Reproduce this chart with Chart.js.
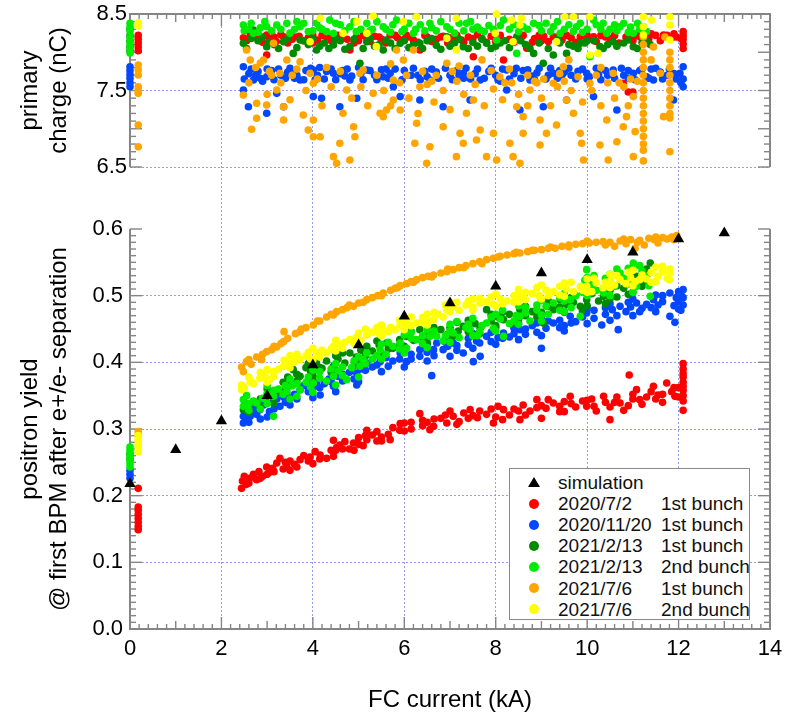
<!DOCTYPE html>
<html>
<head>
<meta charset="utf-8">
<script src="https://cdn.jsdelivr.net/npm/chart.js@4/dist/chart.umd.min.js"></script>
<style>
  html, body { margin: 0; padding: 0; background: #fff; }
  #wrap { position: relative; width: 788px; height: 715px; }
  #legend { position: absolute; left: 509px; top: 468px; width: 241px; height: 152px; box-sizing: border-box;
    border: 1px solid #8a8a8a; background: #fff; font-family: 'Liberation Sans', Arial, sans-serif; font-size: 19px; color: #111; }
  .row { position: absolute; left: 0; height: 21px; line-height: 21px; width: 100%; white-space: nowrap; }
  .dot { position: absolute; left: 19px; top: 5.5px; width: 10px; height: 10px; border-radius: 50%; }
  .tri { position: absolute; left: 18px; top: 5px; width: 0; height: 0; border-left: 6px solid transparent; border-right: 6px solid transparent; border-bottom: 10px solid #000; }
  .c1 { position: absolute; left: 48px; }
  .c2 { position: absolute; left: 151px; }
</style>
</head>
<body>
<div id="wrap">
  <canvas id="c" width="788" height="715"></canvas>
  <div id="legend"></div>
</div>
<script>
// ---------------- DATA ----------------
const X_TITLE = 'FC current (kA)';
const Y_LOW_TITLE = ['positron yield', '@ first BPM after e+/e- separation'];
const Y_UP_TITLE = ['primary', 'charge (nC)'];
const SIM_LABEL = 'simulation';
const SERIES_LABELS = ['2020/7/2', '2020/11/20', '2021/2/13', '2021/2/13', '2021/7/6', '2021/7/6'];
const BUNCH_LABELS = ['1st bunch', '1st bunch', '1st bunch', '2nd bunch', '1st bunch', '2nd bunch'];
const SERIES_COLORS = ['#ff0000', '#0047ff', '#008a00', '#00ec00', '#ffa500', '#ffff00'];

const simYield = [[0,0.218],[1,0.269],[2,0.312],[3,0.35],[4,0.396],[5,0.426],[6,0.469],[7,0.489],[8,0.514],[9,0.534],[10,0.554],[11,0.565],[12,0.585],[13,0.594]];

const redYield = [[0.18,0.211],[0.18,0.183],[0.18,0.178],[0.18,0.172],[0.18,0.166],[0.18,0.16],[0.18,0.154],[0.18,0.149],
[2.44,0.211],[2.46,0.222],[2.5,0.229],[2.55,0.217],[2.62,0.226],[2.7,0.232],[2.77,0.224],[2.82,0.236],[2.9,0.229],[2.99,0.243],[3.05,0.235],[3.12,0.241],[3.21,0.249],[3.28,0.256],[3.35,0.24],[3.43,0.244],[3.5,0.252],[3.6,0.247],[3.72,0.254],[3.8,0.26],[3.94,0.258],[4.05,0.266],[4.16,0.261],[4.3,0.256],[4.45,0.259],[4.45,0.283],[4.52,0.272],[4.59,0.276],[4.7,0.281],[4.8,0.27],[4.89,0.279],[5.0,0.287],[5.1,0.275],[5.18,0.298],[5.18,0.284],[5.3,0.291],[5.4,0.296],[5.5,0.288],[5.69,0.284],[5.75,0.302],[5.91,0.308],[6.0,0.297],[6.15,0.31],[6.34,0.323],[6.4,0.313],[6.56,0.299],[6.64,0.304],[6.8,0.316],[6.93,0.309],[7.07,0.319],[7.2,0.311],[7.3,0.324],[7.44,0.329],[7.6,0.317],[7.8,0.322],[7.95,0.309],[8.05,0.334],[8.17,0.329],[8.3,0.321],[8.53,0.314],[8.6,0.336],[8.75,0.327],[8.9,0.344],[9.0,0.316],[9.1,0.331],[9.26,0.339],[9.4,0.326],[9.5,0.341],[9.63,0.349],[9.75,0.333],[9.99,0.334],[10.1,0.345],[10.2,0.327],[10.36,0.349],[10.5,0.314],[10.6,0.34],[10.72,0.339],[10.8,0.328],[10.92,0.381],[11.0,0.345],[11.08,0.359],[11.2,0.337],[11.3,0.348],[11.45,0.364],[11.55,0.351],[11.65,0.34],[11.74,0.369],[11.85,0.356],[11.92,0.349],[12.0,0.362],
[12.1,0.398],[12.1,0.39],[12.1,0.383],[12.1,0.378],[12.1,0.37],[12.1,0.364],[12.1,0.358],[12.1,0.35],[12.1,0.342],[12.1,0.328],
[3.0,0.232],[3.5,0.238],[4.0,0.248],[4.5,0.268],[5.0,0.277],[5.5,0.282],[6.0,0.309],[6.5,0.31],[7.0,0.327],[7.5,0.32],[8.0,0.318],[8.5,0.327],[9.0,0.335],[9.5,0.326],[10.0,0.343],[10.5,0.333],[11.0,0.352],[11.5,0.345],[12.0,0.348],
[2.6,0.219],[2.85,0.226],[3.15,0.236],[3.4,0.25],[3.65,0.243],[3.9,0.252],[4.15,0.255],[4.4,0.268],[4.65,0.27],[4.9,0.268],[5.15,0.29],[5.4,0.282],[5.65,0.292],[5.9,0.298],[6.15,0.3],[6.4,0.305],[6.65,0.315],[6.9,0.321],[7.15,0.307],[7.4,0.316],[7.65,0.327],[7.9,0.33],[8.15,0.314],[8.4,0.33],[8.65,0.321],[8.9,0.332],[9.15,0.344],[9.4,0.334],[9.65,0.338],[9.9,0.342],[10.15,0.334],[10.4,0.34],[10.65,0.348],[10.9,0.335],[11.15,0.344],[11.4,0.356],[11.65,0.352],[11.9,0.362]];

const blueYield = [[0,0.238],[0,0.232],[0,0.226],
[2.48,0.309],[2.48,0.319],[2.5,0.327],[2.55,0.314],[2.63,0.319],[2.7,0.33],[2.77,0.322],[2.84,0.329],[2.92,0.336],[2.99,0.339],[3.05,0.326],[3.14,0.341],[3.21,0.345],[3.28,0.334],[3.36,0.348],[3.43,0.354],[3.5,0.346],[3.6,0.352],[3.72,0.359],[3.8,0.365],[3.9,0.356],[4.01,0.363],[4.08,0.37],[4.16,0.351],[4.25,0.368],[4.35,0.375],[4.45,0.364],[4.55,0.379],[4.65,0.372],[4.8,0.385],[4.96,0.366],[4.96,0.384],[5.05,0.39],[5.18,0.399],[5.3,0.393],[5.47,0.401],[5.6,0.407],[5.75,0.402],[5.91,0.414],[6.05,0.401],[6.15,0.412],[6.34,0.419],[6.34,0.409],[6.5,0.415],[6.6,0.38],[6.64,0.419],[6.71,0.429],[6.85,0.419],[6.95,0.424],[7.07,0.429],[7.15,0.418],[7.29,0.414],[7.4,0.427],[7.51,0.401],[7.58,0.432],[7.66,0.409],[7.8,0.439],[7.9,0.431],[8.05,0.437],[8.17,0.444],[8.3,0.438],[8.4,0.451],[8.53,0.449],[8.65,0.442],[8.8,0.455],[8.9,0.459],[9.0,0.421],[9.1,0.451],[9.26,0.459],[9.4,0.463],[9.5,0.455],[9.63,0.469],[9.75,0.461],[9.9,0.468],[9.99,0.474],[10.15,0.466],[10.32,0.456],[10.4,0.472],[10.55,0.479],[10.68,0.449],[10.72,0.484],[10.85,0.476],[10.95,0.483],[11.08,0.489],[11.2,0.481],[11.3,0.487],[11.45,0.494],[11.55,0.486],[11.65,0.491],[11.81,0.504],[11.81,0.469],[11.92,0.46],[11.95,0.497],[12.0,0.491],[12.05,0.502],[12.1,0.509],[12.1,0.497],[12.1,0.486],
[3.0,0.318],[3.5,0.336],[4.0,0.347],[4.5,0.356],[5.0,0.371],[5.5,0.386],[6.0,0.393],[6.5,0.402],[7.0,0.409],[7.5,0.421],[8.0,0.427],[8.5,0.434],[9.0,0.44],[9.5,0.447],[10.0,0.458],[10.5,0.463],[11.0,0.47],[11.5,0.476],[12.0,0.48],
[3.0,0.35],[3.5,0.365],[4.0,0.378],[4.5,0.388],[5.0,0.4],[5.5,0.413],[6.0,0.421],[6.5,0.427],[7.0,0.436],[7.5,0.443],[8.0,0.452],[8.5,0.459],[9.0,0.466],[9.5,0.476],[10.0,0.482],[10.5,0.488],[11.0,0.495],[11.5,0.501],[12.0,0.506],
[2.6,0.31],[2.85,0.315],[3.15,0.33],[3.4,0.34],[3.65,0.345],[3.9,0.37],[4.15,0.362],[4.4,0.371],[4.65,0.382],[4.9,0.375],[5.15,0.388],[5.4,0.396],[5.65,0.394],[5.9,0.405],[6.15,0.405],[6.4,0.422],[6.65,0.41],[6.9,0.43],[7.15,0.425],[7.4,0.436],[7.65,0.429],[7.9,0.445],[8.15,0.436],[8.4,0.443],[8.65,0.45],[8.9,0.445],[9.15,0.462],[9.4,0.452],[9.65,0.459],[9.9,0.476],[10.15,0.478],[10.4,0.482],[10.65,0.47],[10.9,0.49],[11.15,0.476],[11.4,0.482],[11.65,0.5],[11.9,0.485],[12.05,0.478]];

const dkGreenYield = [[0,0.255],[0,0.262],
[2.48,0.329],[2.52,0.338],[2.6,0.332],[2.7,0.341],[2.84,0.334],[2.95,0.345],[3.05,0.35],[3.14,0.339],[3.25,0.355],[3.35,0.37],[3.45,0.378],[3.57,0.389],[3.65,0.382],[3.72,0.379],[3.85,0.392],[3.95,0.387],[4.08,0.399],[4.2,0.391],[4.3,0.402],[4.45,0.394],[4.55,0.405],[4.7,0.399],[4.81,0.414],[4.95,0.408],[5.05,0.418],[5.18,0.424],[5.3,0.417],[5.45,0.426],[5.61,0.429],[5.75,0.421],[5.9,0.434],[6.05,0.439],[6.2,0.433],[6.34,0.449],[6.5,0.441],[6.64,0.444],[6.8,0.449],[6.95,0.442],[7.07,0.439],[7.18,0.447],[7.29,0.454],[7.4,0.446],[7.55,0.458],[7.66,0.451],[7.8,0.479],[7.9,0.462],[8.05,0.468],[8.17,0.464],[8.3,0.472],[8.53,0.479],[8.65,0.47],[8.8,0.476],[9.04,0.459],[9.15,0.484],[9.26,0.479],[9.41,0.494],[9.55,0.487],[9.7,0.49],[9.85,0.484],[9.99,0.494],[10.1,0.503],[10.25,0.492],[10.36,0.499],[10.5,0.508],[10.65,0.498],[10.8,0.511],[10.95,0.517],[11.08,0.529],[11.2,0.514],[11.3,0.522],[11.38,0.549],
[3.0,0.36],[3.5,0.366],[4.0,0.38],[4.5,0.41],[5.0,0.4],[5.5,0.412],[6.0,0.424],[6.5,0.43],[7.0,0.452],[7.5,0.44],[8.0,0.455],[8.5,0.465],[9.0,0.475],[9.5,0.475],[10.0,0.485],[10.5,0.495],[11.0,0.505],
[2.6,0.325],[2.85,0.345],[3.15,0.356],[3.4,0.36],[3.65,0.372],[3.9,0.398],[4.15,0.392],[4.4,0.385],[4.65,0.414],[4.9,0.395],[5.15,0.41],[5.4,0.432],[5.65,0.42],[5.9,0.426],[6.15,0.446],[6.4,0.435],[6.65,0.452],[6.9,0.437],[7.15,0.46],[7.4,0.463],[7.65,0.443],[7.9,0.472],[8.15,0.475],[8.4,0.459],[8.65,0.484],[8.9,0.468],[9.15,0.492],[9.4,0.483],[9.65,0.497],[9.9,0.478],[10.15,0.51],[10.4,0.488],[10.65,0.515],[10.9,0.502],[11.15,0.52],[11.3,0.54]];

const ltGreenYield = [[0,0.273],[0,0.268],[0,0.263],[0,0.258],[0,0.253],[0,0.248],[0,0.243],
[2.48,0.334],[2.48,0.344],[2.55,0.35],[2.6,0.328],[2.7,0.342],[2.77,0.339],[2.9,0.346],[3.0,0.353],[3.14,0.349],[3.14,0.319],[3.25,0.36],[3.35,0.352],[3.43,0.356],[3.55,0.365],[3.65,0.349],[3.72,0.359],[3.85,0.37],[3.95,0.363],[4.01,0.369],[4.15,0.376],[4.3,0.372],[4.45,0.379],[4.55,0.387],[4.65,0.38],[4.74,0.374],[4.85,0.392],[5.03,0.394],[5.1,0.404],[5.18,0.414],[5.3,0.405],[5.47,0.419],[5.6,0.412],[5.75,0.424],[5.91,0.429],[6.05,0.421],[6.15,0.436],[6.27,0.434],[6.4,0.428],[6.56,0.439],[6.71,0.439],[6.85,0.432],[7.0,0.447],[7.07,0.444],[7.2,0.437],[7.35,0.452],[7.44,0.449],[7.6,0.44],[7.7,0.455],[7.8,0.459],[7.95,0.451],[8.1,0.465],[8.17,0.439],[8.3,0.458],[8.45,0.47],[8.53,0.469],[8.65,0.474],[8.75,0.462],[8.9,0.479],[9.0,0.471],[9.1,0.484],[9.26,0.489],[9.4,0.478],[9.5,0.492],[9.63,0.494],[9.75,0.5],[9.85,0.469],[9.95,0.523],[9.99,0.539],[10.1,0.517],[10.2,0.508],[10.36,0.504],[10.5,0.522],[10.6,0.514],[10.72,0.534],[10.8,0.526],[10.9,0.541],[11.01,0.549],[11.08,0.514],[11.2,0.537],[11.3,0.529],[11.38,0.499],
[3.0,0.365],[3.5,0.375],[4.0,0.388],[4.5,0.398],[5.0,0.408],[5.5,0.427],[6.0,0.441],[6.5,0.449],[7.0,0.457],[7.5,0.466],[8.0,0.472],[8.5,0.485],[9.0,0.493],[9.5,0.503],[10.0,0.527],[10.5,0.532],[11.0,0.54],
[3.0,0.338],[3.5,0.345],[4.0,0.355],[4.5,0.366],[5.0,0.378],[5.5,0.405],[6.0,0.414],[6.5,0.422],[7.0,0.43],[7.5,0.44],[8.0,0.447],[8.5,0.457],[9.0,0.462],[9.5,0.476],[10.0,0.5],[10.5,0.5],[11.0,0.505],
[2.6,0.338],[2.85,0.33],[3.15,0.358],[3.4,0.365],[3.65,0.368],[3.9,0.378],[4.15,0.386],[4.4,0.39],[4.65,0.393],[4.9,0.402],[5.15,0.398],[5.4,0.41],[5.65,0.43],[5.9,0.42],[6.15,0.445],[6.4,0.44],[6.65,0.447],[6.9,0.44],[7.15,0.461],[7.4,0.457],[7.65,0.446],[7.9,0.468],[8.15,0.478],[8.4,0.462],[8.65,0.482],[8.9,0.486],[9.15,0.472],[9.4,0.497],[9.65,0.482],[9.9,0.505],[10.15,0.53],[10.4,0.526],[10.65,0.54],[10.9,0.52],[11.15,0.545],[11.35,0.515]];

const orangeYield = [[0.18,0.296],[0.18,0.29],
[2.44,0.393],[2.48,0.386],[2.55,0.401],[2.65,0.397],[2.77,0.408],[2.88,0.404],[2.99,0.416],[3.1,0.419],[3.21,0.423],[3.3,0.428],[3.36,0.431],[3.37,0.446],[3.62,0.443],[3.72,0.446],[3.85,0.452],[4.01,0.456],[4.15,0.462],[4.3,0.468],[4.4,0.472],[4.52,0.476],[4.65,0.479],[4.75,0.482],[4.89,0.484],[5.0,0.489],[5.18,0.494],[5.3,0.497],[5.42,0.5],[5.54,0.504],[5.7,0.508],[5.8,0.511],[5.91,0.515],[6.05,0.518],[6.15,0.521],[6.27,0.524],[6.4,0.527],[6.52,0.529],[6.64,0.531],[6.8,0.534],[6.93,0.536],[7.07,0.539],[7.2,0.542],[7.35,0.545],[7.5,0.548],[7.65,0.551],[7.8,0.554],[7.95,0.556],[8.1,0.559],[8.25,0.561],[8.4,0.563],[8.53,0.564],[8.7,0.566],[8.85,0.568],[9.0,0.569],[9.15,0.571],[9.3,0.571],[9.45,0.574],[9.6,0.576],[9.75,0.577],[9.9,0.578],[10.05,0.579],[10.2,0.58],[10.35,0.581],[10.5,0.58],[10.6,0.574],[10.72,0.582],[10.85,0.578],[10.95,0.584],[11.05,0.571],[11.15,0.583],[11.25,0.576],[11.35,0.586],[11.47,0.584],[11.55,0.579],[11.65,0.587],[11.75,0.585],[11.85,0.588],[11.96,0.59],
[2.6,0.404],[2.9,0.412],[3.15,0.424],[3.45,0.436],[3.75,0.45],[4.1,0.462],[4.45,0.471],[4.8,0.486],[5.1,0.49],[5.5,0.5],[5.85,0.512],[6.2,0.52],[6.6,0.528],[6.95,0.54],[7.3,0.542],[7.7,0.548],[8.05,0.558],[8.45,0.565],[8.8,0.568],[9.2,0.573],[9.6,0.573],[10.0,0.582],[10.4,0.576],[10.8,0.585],[11.1,0.58],[11.5,0.588],[11.9,0.584]];

const yellowYield = [[0.18,0.29],[0.18,0.284],[0.18,0.278],[0.18,0.272],[0.18,0.266],
[2.44,0.359],[2.44,0.366],[2.5,0.362],[2.63,0.371],[2.7,0.368],[2.84,0.376],[2.95,0.38],[3.05,0.374],[3.14,0.386],[3.25,0.39],[3.36,0.394],[3.37,0.403],[3.5,0.398],[3.6,0.401],[3.72,0.404],[3.85,0.409],[3.95,0.405],[4.08,0.414],[4.2,0.418],[4.3,0.414],[4.45,0.424],[4.55,0.428],[4.7,0.43],[4.81,0.434],[4.95,0.437],[5.05,0.433],[5.18,0.441],[5.3,0.445],[5.45,0.443],[5.54,0.449],[5.7,0.452],[5.8,0.449],[5.91,0.456],[6.05,0.458],[6.15,0.455],[6.27,0.459],[6.4,0.467],[6.5,0.462],[6.64,0.464],[6.75,0.472],[6.85,0.468],[6.93,0.479],[7.07,0.484],[7.2,0.478],[7.35,0.486],[7.5,0.482],[7.65,0.489],[7.8,0.491],[7.95,0.487],[8.1,0.495],[8.25,0.492],[8.4,0.5],[8.53,0.499],[8.65,0.494],[8.8,0.503],[8.95,0.5],[9.1,0.508],[9.26,0.506],[9.4,0.501],[9.55,0.51],[9.7,0.506],[9.85,0.514],[9.99,0.514],[10.1,0.506],[10.2,0.519],[10.35,0.512],[10.5,0.522],[10.6,0.516],[10.72,0.524],[10.85,0.518],[10.95,0.527],[11.05,0.521],[11.2,0.531],[11.3,0.525],[11.4,0.535],[11.55,0.529],[11.65,0.536],[11.75,0.526],[11.81,0.534],[11.81,0.54],
[3.0,0.389],[3.5,0.41],[4.0,0.421],[4.5,0.433],[5.0,0.444],[5.5,0.456],[6.0,0.466],[6.5,0.472],[7.0,0.49],[7.5,0.495],[8.0,0.502],[8.5,0.509],[9.0,0.516],[9.5,0.519],[10.0,0.525],[10.5,0.532],[11.0,0.538],[11.5,0.543],
[3.0,0.37],[3.5,0.392],[4.0,0.404],[4.5,0.417],[5.0,0.428],[5.5,0.44],[6.0,0.449],[6.5,0.456],[7.0,0.476],[7.5,0.478],[8.0,0.484],[8.5,0.491],[9.0,0.495],[9.5,0.499],[10.0,0.505],[10.5,0.512],[11.0,0.515],[11.5,0.521],
[2.6,0.378],[2.85,0.385],[3.15,0.379],[3.4,0.4],[3.65,0.412],[3.9,0.415],[4.15,0.408],[4.4,0.42],[4.65,0.421],[4.9,0.428],[5.15,0.45],[5.4,0.452],[5.65,0.446],[5.9,0.463],[6.15,0.468],[6.4,0.46],[6.65,0.475],[6.9,0.486],[7.15,0.49],[7.4,0.492],[7.65,0.496],[7.9,0.498],[8.15,0.488],[8.4,0.49],[8.65,0.505],[8.9,0.512],[9.15,0.5],[9.4,0.514],[9.65,0.52],[9.9,0.508],[10.15,0.526],[10.4,0.52],[10.65,0.53],[10.9,0.535],[11.15,0.524],[11.4,0.52],[11.65,0.544],[11.8,0.524]];

const redCharge = [[0.18,8.22],[0.18,8.17],[0.18,8.12],[0.18,8.07],[0.18,8.02],
[2.48,8.19],[2.63,8.225],[2.8,8.18],[2.99,8.225],[2.99,7.964],[3.15,8.2],[3.36,8.203],[3.55,8.17],[3.7,8.21],[3.9,8.19],[4.1,8.16],[4.3,8.2],[4.45,8.225],[4.6,8.18],[4.81,8.03],[4.95,8.2],[5.18,8.182],[5.35,8.21],[5.5,8.17],[5.69,8.225],[5.85,8.19],[6.05,8.22],[6.2,8.16],[6.34,8.03],[6.5,8.2],[6.7,8.17],[6.85,8.21],[7.07,8.203],[7.25,8.16],[7.4,8.2],[7.51,7.942],[7.7,8.18],[7.9,8.21],[8.17,7.898],[8.3,8.17],[8.5,8.2],[8.68,8.052],[8.85,8.18],[9.05,8.21],[9.26,8.203],[9.45,8.16],[9.65,8.19],[9.85,8.203],[10.0,8.17],[10.14,8.203],[10.3,8.22],[10.5,8.18],[10.79,7.594],[10.9,7.48],[11.0,7.48],[11.0,8.19],[11.16,8.203],[11.35,8.18],[11.5,8.22],[11.67,8.225],[11.85,8.19],
[12.1,8.27],[12.1,8.22],[12.1,8.17],[12.1,8.11],[12.1,8.05],
[3.2,8.14],[4.0,8.22],[5.0,8.15],[6.0,8.17],[7.0,8.14],[8.0,8.2],[9.0,8.15],[10.0,8.22],[11.0,8.15],[11.95,8.2],
[2.55,8.15],[2.7,8.2],[2.9,8.13],[3.05,8.18],[3.3,8.23],[3.45,8.12],[3.6,8.2],[3.8,8.15],[4.0,8.12],[4.2,8.22],[4.4,8.15],[4.55,8.22],[4.75,8.17],[4.9,8.12],[5.1,8.22],[5.25,8.14],[5.45,8.2],[5.6,8.12],[5.8,8.22],[5.95,8.15],[6.1,8.2],[6.3,8.13],[6.45,8.22],[6.6,8.14],[6.8,8.2],[6.95,8.12],[7.15,8.22],[7.3,8.13],[7.5,8.18],[7.6,8.23],[7.8,8.13],[8.0,8.14],[8.1,8.22],[8.4,8.13],[8.6,8.22],[8.8,8.13],[8.95,8.22],[9.15,8.14],[9.35,8.2],[9.55,8.22],[9.75,8.13],[9.95,8.22],[10.2,8.14],[10.4,8.2],[10.6,8.22],[10.7,8.12],[10.85,8.2],[11.1,8.22],[11.25,8.13],[11.4,8.24],[11.6,8.15],[11.75,8.22],[11.9,8.24],[12.05,8.18]];

const blueCharge = [[0,7.81],[0,7.76],[0,7.71],[0,7.66],[0,7.6],[0,7.55],
[2.48,7.811],[2.48,7.507],[2.59,7.288],[2.6,7.72],[2.7,7.637],[2.8,7.75],[2.99,7.68],[2.99,7.202],[3.1,7.76],[3.21,7.463],[3.3,7.7],[3.36,7.288],[3.45,7.74],[3.57,7.725],[3.72,7.637],[3.85,7.76],[4.01,7.42],[4.01,7.768],[4.1,7.7],[4.19,7.398],[4.3,7.75],[4.45,7.725],[4.59,7.288],[4.65,7.76],[4.81,7.637],[4.96,7.398],[5.05,7.72],[5.18,7.768],[5.35,7.7],[5.54,7.68],[5.69,7.725],[5.76,7.55],[5.91,7.42],[6.0,7.76],[6.15,7.7],[6.34,7.376],[6.45,7.75],[6.56,7.637],[6.7,7.74],[6.85,7.288],[7.0,7.7],[7.15,7.76],[7.29,7.725],[7.44,7.376],[7.55,7.72],[7.66,7.637],[7.85,7.75],[8.0,7.7],[8.24,7.768],[8.24,7.507],[8.4,7.72],[8.53,7.245],[8.6,7.76],[8.75,7.637],[8.9,7.73],[9.04,7.288],[9.15,7.7],[9.26,7.725],[9.4,7.76],[9.55,7.376],[9.65,7.7],[9.8,7.75],[9.99,7.725],[10.14,7.42],[10.25,7.71],[10.4,7.76],[10.57,7.768],[10.65,7.245],[10.8,7.7],[11.01,7.725],[11.15,7.76],[11.3,7.68],[11.45,7.637],[11.6,7.74],[11.75,7.7],[11.89,7.376],[12.03,7.725],[12.1,7.811],[12.1,7.55],[12.1,7.65],
[2.9,7.62],[3.6,7.66],[4.7,7.69],[5.6,7.78],[6.3,7.7],[7.3,7.66],[8.1,7.62],[8.8,7.69],[9.5,7.74],[10.0,7.65],[10.9,7.66],[11.4,7.78],[11.9,7.72],
[2.5,7.65],[2.65,7.78],[2.75,7.7],[2.85,7.66],[3.0,7.78],[3.15,7.64],[3.25,7.78],[3.4,7.66],[3.5,7.79],[3.65,7.7],[3.8,7.64],[3.95,7.79],[4.05,7.64],[4.15,7.8],[4.25,7.65],[4.4,7.78],[4.5,7.64],[4.6,7.72],[4.75,7.78],[4.85,7.69],[5.0,7.8],[5.1,7.64],[5.25,7.76],[5.4,7.64],[5.5,7.77],[5.65,7.66],[5.8,7.78],[5.95,7.64],[6.05,7.7],[6.2,7.79],[6.35,7.64],[6.5,7.68],[6.6,7.78],[6.75,7.66],[6.9,7.79],[7.05,7.64],[7.2,7.7],[7.35,7.79],[7.45,7.65],[7.6,7.78],[7.75,7.66],[7.9,7.79],[8.05,7.64],[8.15,7.78],[8.3,7.65],[8.45,7.79],[8.55,7.66],[8.7,7.77],[8.85,7.64],[8.95,7.79],[9.1,7.65],[9.2,7.79],[9.35,7.66],[9.45,7.7],[9.6,7.79],[9.75,7.65],[9.9,7.78],[10.05,7.68],[10.2,7.79],[10.3,7.64],[10.45,7.7],[10.6,7.66],[10.75,7.79],[10.9,7.76],[11.05,7.64],[11.2,7.78],[11.35,7.66],[11.5,7.79],[11.65,7.65],[11.8,7.78],[11.95,7.65],[12.05,7.6]];

const dkGreenCharge = [[0,8.3],[0,8.22],[0,8.15],[0,8.08],[0,8.02],
[2.48,8.117],[2.7,8.29],[2.8,8.15],[2.99,8.073],[3.15,8.1],[3.36,8.138],[3.57,7.985],[3.72,8.16],[3.9,8.1],[4.08,8.03],[4.25,8.12],[4.45,8.095],[4.6,8.15],[4.81,8.073],[5.03,7.855],[5.18,8.138],[5.35,8.08],[5.54,8.03],[5.7,8.12],[5.91,8.117],[6.1,8.06],[6.34,8.117],[6.5,8.15],[6.7,8.09],[6.93,8.203],[7.1,8.12],[7.29,8.073],[7.5,8.13],[7.8,8.117],[8.0,8.08],[8.2,8.15],[8.46,8.203],[8.65,8.1],[8.83,7.985],[9.04,7.855],[9.26,7.964],[9.4,8.12],[9.55,7.985],[9.7,8.08],[9.85,8.117],[10.0,8.15],[10.28,8.073],[10.45,8.1],[10.57,8.138],[10.8,8.12],[11.01,8.073],[11.2,8.13],[11.38,8.1],
[2.55,8.05],[2.65,8.18],[2.9,8.2],[3.05,8.13],[3.25,8.05],[3.45,8.18],[3.65,8.06],[3.8,8.15],[4.0,8.18],[4.15,8.08],[4.35,8.05],[4.5,8.17],[4.7,8.04],[4.9,8.17],[5.1,8.05],[5.25,8.18],[5.45,8.1],[5.6,8.16],[5.8,8.05],[6.0,8.15],[6.2,8.1],[6.4,8.05],[6.6,8.18],[6.8,8.04],[7.0,8.08],[7.2,8.17],[7.4,8.05],[7.6,8.08],[7.7,8.17],[7.9,8.05],[8.1,8.12],[8.3,8.06],[8.55,8.15],[8.75,8.05],[8.95,8.12],[9.15,8.05],[9.35,8.17],[9.6,8.1],[9.8,8.05],[9.95,8.12],[10.15,8.15],[10.35,8.05],[10.65,8.08],[10.9,8.16],[11.1,8.05],[11.3,8.15]];

const ltGreenCharge = [[0,8.38],[0,8.33],[0,8.28],[0,8.2],[0,8.13],[0,8.06],[0,7.99],
[2.48,8.356],[2.6,8.3],[2.7,8.247],[2.85,8.32],[2.99,8.334],[3.21,8.356],[3.43,8.378],[3.6,8.3],[3.72,8.334],[3.9,8.27],[4.08,8.378],[4.2,8.3],[4.37,8.42],[4.45,8.247],[4.6,8.36],[4.81,8.334],[4.95,8.27],[5.18,8.378],[5.3,8.3],[5.54,8.334],[5.7,8.26],[5.83,8.42],[6.0,8.3],[6.2,8.247],[6.35,8.36],[6.56,8.378],[6.7,8.28],[6.93,8.334],[7.1,8.25],[7.36,8.378],[7.5,8.3],[7.66,8.29],[7.85,8.35],[8.02,8.16],[8.17,8.42],[8.3,8.3],[8.46,7.985],[8.6,8.334],[8.83,8.378],[9.0,8.28],[9.26,8.334],[9.41,8.247],[9.6,8.36],[9.77,8.334],[9.9,8.26],[10.06,7.942],[10.14,8.42],[10.3,8.3],[10.43,8.247],[10.6,8.36],[10.72,8.334],[10.9,8.26],[11.01,8.247],[11.15,8.3],[11.23,8.334],
[2.5,8.28],[2.65,8.38],[2.8,8.26],[2.95,8.4],[3.1,8.28],[3.3,8.3],[3.5,8.25],[3.65,8.4],[3.8,8.38],[4.0,8.28],[4.15,8.32],[4.3,8.27],[4.5,8.38],[4.7,8.28],[4.9,8.4],[5.05,8.3],[5.25,8.28],[5.4,8.4],[5.6,8.3],[5.75,8.36],[5.95,8.27],[6.1,8.38],[6.25,8.3],[6.45,8.28],[6.6,8.32],[6.8,8.4],[7.0,8.3],[7.2,8.38],[7.3,8.28],[7.45,8.4],[7.6,8.33],[7.75,8.27],[7.95,8.3],[8.1,8.35],[8.4,8.36],[8.5,8.27],[8.7,8.3],[8.95,8.35],[9.1,8.38],[9.2,8.27],[9.35,8.4],[9.5,8.3],[9.7,8.27],[9.85,8.38],[10.0,8.3],[10.2,8.36],[10.35,8.38],[10.5,8.3],[10.65,8.28],[10.8,8.38],[10.95,8.33],[11.1,8.38],[11.3,8.27]];

const orangeCharge = [[0.18,7.833],[0.18,7.77],[0.18,7.703],[0.18,7.55],[0.18,7.5],[0.18,7.463],[0.18,7.049],[0.18,6.765],
[2.48,7.441],[2.55,8.03],[2.63,7.898],[2.66,6.993],[2.77,7.333],[2.77,7.137],[2.85,7.86],[2.92,7.898],[2.99,7.31],[3.05,7.75],[3.14,8.117],[3.21,7.507],[3.28,7.725],[3.36,7.114],[3.36,7.288],[3.43,7.898],[3.55,7.7],[3.72,7.876],[3.79,7.18],[3.9,6.984],[3.94,7.725],[4.01,7.114],[4.01,6.896],[4.01,7.594],[4.16,6.896],[4.3,7.8],[4.45,6.635],[4.52,6.548],[4.59,6.81],[4.66,7.202],[4.74,7.507],[4.81,6.591],[4.89,7.027],[4.92,6.896],[5.03,7.725],[5.1,7.768],[5.32,7.463],[5.47,7.202],[5.54,7.158],[5.61,7.245],[5.76,7.637],[5.76,7.376],[5.83,8.03],[5.91,7.245],[5.98,7.898],[6.2,8.03],[6.23,6.81],[6.27,7.071],[6.34,7.55],[6.4,7.75],[6.49,6.548],[6.56,6.765],[6.7,7.7],[6.85,7.027],[6.93,7.855],[7.05,7.75],[7.14,6.635],[7.22,6.94],[7.29,6.81],[7.36,7.202],[7.45,7.7],[7.51,7.376],[7.58,6.853],[7.66,6.984],[7.8,6.635],[7.9,7.76],[7.95,6.94],[8.02,6.591],[8.09,7.68],[8.2,7.6],[8.31,6.81],[8.38,6.635],[8.46,7.288],[8.53,6.548],[8.6,7.158],[8.6,6.94],[8.7,7.7],[8.75,7.507],[8.97,6.788],[8.97,7.114],[9.05,7.65],[9.11,6.94],[9.26,7.594],[9.33,7.049],[9.4,7.72],[9.48,7.811],[9.55,7.376],[9.7,7.202],[9.8,7.68],[9.85,6.94],[9.88,6.81],[9.92,6.591],[10.06,7.594],[10.2,7.7],[10.28,6.788],[10.43,7.114],[10.46,6.591],[10.57,7.725],[10.65,6.831],[10.79,7.027],[10.86,7.158],[10.95,7.65],[11.01,7.42],[11.01,6.635],[11.05,6.962],
[11.23,8.2],[11.23,8.1],[11.23,8.0],[11.23,7.9],[11.23,7.8],[11.23,7.7],[11.23,7.6],[11.23,7.5],[11.23,7.4],[11.23,7.3],[11.23,7.2],[11.23,7.1],[11.23,7.0],[11.23,6.9],[11.23,6.8],[11.23,6.72],[11.23,6.58],
[11.45,8.07],[11.6,7.725],[11.67,7.158],[11.7,8.2],
[11.81,8.0],[11.81,7.9],[11.81,7.8],[11.81,7.7],[11.81,7.6],[11.81,7.5],[11.81,7.4],[11.81,7.3],[11.81,7.2],[11.81,7.14],[11.81,6.7],
[5.7,7.85],[6.05,7.7],[6.6,7.62],[7.2,7.82],[7.7,7.9],[8.3,7.78],[8.9,7.6],[9.6,7.9],[10.3,7.8],[10.7,7.6],[11.4,7.9],
[2.6,7.6],[2.75,7.8],[3.0,7.45],[3.1,7.7],[3.3,7.6],[3.5,7.38],[3.65,7.78],[3.85,7.5],[4.1,7.65],[4.2,7.3],[4.4,7.55],[4.6,7.75],[4.85,7.4],[5.05,7.55],[5.2,7.3],[5.4,7.7],[5.55,7.5],[5.7,7.3],[5.9,7.6],[6.1,7.4],[6.3,7.2],[6.5,7.58],[6.65,7.35],[6.85,7.5],[7.0,7.25],[7.15,7.62],[7.3,7.45],[7.55,7.58],[7.75,7.3],[7.95,7.52],[8.15,7.38],[8.35,7.6],[8.5,7.45],[8.7,7.3],[8.85,7.62],[9.0,7.4],[9.2,7.3],[9.35,7.55],[9.5,7.62],[9.65,7.5],[9.9,7.35],[10.1,7.5],[10.3,7.3],[10.45,7.6],[10.6,7.4],[10.8,7.55],[10.9,7.3],[11.1,7.62]];

const yellowCharge = [[0.18,8.386],[0.18,8.34],
[3.94,8.138],[4.16,8.443],[4.66,8.247],[4.96,8.4],[5.18,8.247],[5.32,8.473],[5.39,8.073],[5.98,8.4],[6.27,8.465],[6.93,8.182],[7.14,8.443],[7.14,8.03],[7.99,8.247],[8.02,8.5],[8.35,8.42],[8.38,8.138],[8.53,8.356],[8.56,8.443],[9.33,8.138],[9.51,8.465],[9.7,8.465],[10.06,8.465],[10.06,7.964],[10.24,7.985],[11.23,8.465],[11.23,8.334],[11.23,8.225],[11.41,8.42],[11.81,8.465],[11.81,8.356],[11.81,8.16]];

const YIELD_DATA = [redYield, blueYield, dkGreenYield, ltGreenYield, orangeYield, yellowYield];
const CHARGE_DATA = [redCharge, blueCharge, dkGreenCharge, ltGreenCharge, orangeCharge, yellowCharge];
const DRAW_ORDER = [6, 5, 4, 3, 2, 1];

// ---------------- STYLE ----------------
const FONT = "'Liberation Sans', Arial, sans-serif";
const GRID = 'rgba(130,130,235,0.8)';
const AXIS = '#858585';
const CLEAR = 'rgba(0,0,0,0)';
Chart.defaults.font.family = FONT;
Chart.defaults.color = '#000';

const pts = arr => arr.map(([x, y]) => ({x, y}));
const near = (v, t) => Math.abs(v - t) < 1e-6;
function seg(ctx, x1, y1, x2, y2) { ctx.beginPath(); ctx.moveTo(x1, y1); ctx.lineTo(x2, y2); ctx.stroke(); }
function fitV(sc) { sc.width = 130; sc.paddingTop = 0; sc.paddingBottom = 0; }

const datasets = [{
  label: SIM_LABEL, data: pts(simYield), yAxisID: 'yLow', order: 0,
  pointStyle: 'triangle', pointRadius: 6.5, pointBackgroundColor: '#000', pointBorderWidth: 0, borderColor: '#000', showLine: false, clip: false
}];
SERIES_LABELS.forEach((lab, i) => {
  const common = { label: lab + ' ' + BUNCH_LABELS[i], pointStyle: 'circle', pointRadius: 3.8, pointBorderWidth: 0,
    pointBackgroundColor: SERIES_COLORS[i], borderColor: SERIES_COLORS[i], showLine: false, clip: false, order: DRAW_ORDER[i] };
  datasets.push(Object.assign({}, common, { data: pts(YIELD_DATA[i]), yAxisID: 'yLow' }));
  datasets.push(Object.assign({}, common, { data: pts(CHARGE_DATA[i]), yAxisID: 'yUp' }));
});

const framePlugin = {
  id: 'frame',
  beforeDatasetsDraw(chart) {
    const {ctx, chartArea: a, scales: s} = chart;
    const xs = s.x, lo = s.yLow, up = s.yUp;
    ctx.save();
    ctx.setLineDash([]);
    ctx.strokeStyle = AXIS; ctx.lineWidth = 2;
    seg(ctx, a.left, lo.top, a.left, lo.bottom);
    seg(ctx, a.left - 1, lo.bottom, a.right + 1, lo.bottom);
    seg(ctx, a.right, lo.top, a.right, lo.bottom);
    seg(ctx, a.left, up.top, a.left, up.bottom);
    seg(ctx, a.left - 1, up.top, a.right + 1, up.top);
    seg(ctx, a.right, up.top, a.right, up.bottom);
    ctx.lineWidth = 1.4;
    for (let i = 0; i <= 70; i++) {
      const p = xs.getPixelForValue(i * 0.2);
      const len = i % 10 === 0 ? 12 : (i % 5 === 0 ? 8 : 5);
      seg(ctx, p, lo.bottom, p, lo.bottom - len);
      seg(ctx, p, up.top, p, up.top + len);
    }
    for (let i = 0; i <= 60; i++) {
      const p = lo.getPixelForValue(i * 0.01);
      const len = i % 10 === 0 ? 12 : 6;
      seg(ctx, a.left, p, a.left + len, p);
      seg(ctx, a.right, p, a.right - len, p);
    }
    for (let i = 0; i <= 20; i++) {
      const p = up.getPixelForValue(6.5 + i * 0.1);
      const len = i % 5 === 0 ? 12 : 6;
      seg(ctx, a.left, p, a.left + len, p);
      seg(ctx, a.right, p, a.right - len, p);
    }
    ctx.restore();
  }
};

new Chart(document.getElementById('c'), {
  type: 'scatter',
  data: { datasets },
  plugins: [framePlugin],
  options: {
    responsive: false, animation: false, events: [],
    layout: { padding: { left: 0, right: 18, top: 14, bottom: 0 } },
    plugins: { legend: { display: false }, tooltip: { enabled: false } },
    scales: {
      x: {
        type: 'linear', axis: 'x', position: 'bottom', min: 0, max: 14,
        afterFit(sc) { sc.height = 86; sc.paddingLeft = 0; sc.paddingRight = 0; },
        ticks: { stepSize: 2, font: { size: 22 }, padding: 7, maxRotation: 0, autoSkip: false, color: '#000' },
        grid: { drawTicks: false, lineWidth: 1, color: c => (c.tick && (near(c.tick.value, 0) || near(c.tick.value, 14))) ? CLEAR : GRID },
        border: { display: false, dash: [2, 2] },
        title: { display: true, text: X_TITLE, font: { size: 24 }, padding: { top: 0, bottom: 0 }, color: '#000' }
      },
      yLow: {
        type: 'linear', axis: 'y', position: 'left', stack: 'panels', stackWeight: 400, min: 0, max: 0.6,
        afterFit: fitV,
        ticks: { stepSize: 0.1, font: { size: 22 }, padding: 7, color: '#000', callback: v => Number(v).toFixed(1) },
        grid: { drawTicks: false, lineWidth: 1, color: c => (c.tick && (near(c.tick.value, 0) || near(c.tick.value, 0.6))) ? CLEAR : GRID },
        border: { display: false, dash: [2, 2] },
        title: { display: true, text: Y_LOW_TITLE, font: { size: 24 }, padding: { top: 16, bottom: 0 }, color: '#000' }
      },
      ySpacer: {
        type: 'linear', axis: 'y', position: 'left', stack: 'panels', stackWeight: 62, min: 0, max: 1,
        afterFit: fitV,
        ticks: { display: false }, grid: { display: false }, border: { display: false }
      },
      yUp: {
        type: 'linear', axis: 'y', position: 'left', stack: 'panels', stackWeight: 153, min: 6.5, max: 8.5,
        afterFit: fitV,
        ticks: { stepSize: 0.5, font: { size: 22 }, padding: 3, color: '#000', callback: v => Number(v).toFixed(1) },
        grid: { drawTicks: false, lineWidth: 1, color: c => (c.tick && near(c.tick.value, 8.5)) ? CLEAR : GRID },
        border: { display: false, dash: [2, 2] },
        title: { display: true, text: Y_UP_TITLE, font: { size: 24 }, padding: { top: 16, bottom: 0 }, color: '#000' }
      }
    }
  }
});

// ---------------- LEGEND (HTML text) ----------------
const legend = document.getElementById('legend');
const rows = [{ tri: true, c1: SIM_LABEL, c2: '' }].concat(SERIES_LABELS.map((l, i) => ({ color: SERIES_COLORS[i], c1: l, c2: BUNCH_LABELS[i] })));
rows.forEach((r, i) => {
  const row = document.createElement('div');
  row.className = 'row';
  row.style.top = (3 + i * 21.1) + 'px';
  const m = document.createElement('span');
  if (r.tri) { m.className = 'tri'; } else { m.className = 'dot'; m.style.background = r.color; }
  row.appendChild(m);
  const t1 = document.createElement('span'); t1.className = 'c1'; t1.textContent = r.c1; row.appendChild(t1);
  if (r.c2) { const t2 = document.createElement('span'); t2.className = 'c2'; t2.textContent = r.c2; row.appendChild(t2); }
  legend.appendChild(row);
});
</script>
</body>
</html>
